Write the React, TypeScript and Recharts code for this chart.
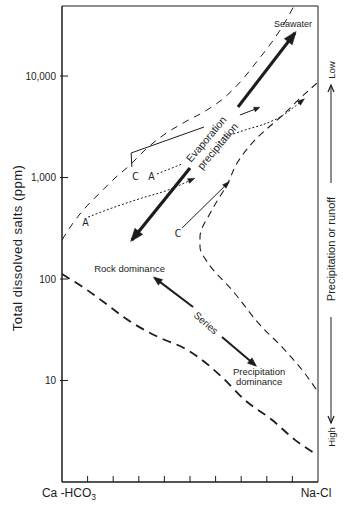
import React from 'react';
import { ComposedChart, Line, Scatter, XAxis, YAxis, ReferenceArea } from 'recharts';

const FONT = "'Liberation Sans', Arial, Helvetica, sans-serif";
const NARROW = "'Liberation Sans Narrow', 'DejaVu Sans Condensed', Arial, sans-serif";
const INK = '#1c1c1c';

// x = Na/(Na+Ca) fraction (0 = Ca-HCO3, 1 = Na-Cl), y = total dissolved salts (ppm)
const upperLeftBoundary = [
  { x: 0, y: 243 }, { x: 0.043, y: 356 }, { x: 0.09, y: 501 }, { x: 0.148, y: 705 },
  { x: 0.207, y: 989 }, { x: 0.266, y: 1330 }, { x: 0.324, y: 1866 }, { x: 0.383, y: 2480 },
  { x: 0.48, y: 3524 }, { x: 0.566, y: 4620 }, { x: 0.637, y: 6210 }, { x: 0.703, y: 9140 },
  { x: 0.766, y: 14400 }, { x: 0.82, y: 21600 }, { x: 0.867, y: 32600 }, { x: 0.906, y: 49000 },
];
const lowerLeftBoundary = [
  { x: 0, y: 112 }, { x: 0.098, y: 78 }, { x: 0.168, y: 58 }, { x: 0.246, y: 41.3 },
  { x: 0.344, y: 29.4 }, { x: 0.402, y: 25.1 }, { x: 0.469, y: 21.4 }, { x: 0.531, y: 17.1 },
  { x: 0.625, y: 10.8 }, { x: 0.715, y: 6.4 }, { x: 0.82, y: 4.1 }, { x: 0.91, y: 2.6 },
  { x: 0.996, y: 1.85 },
];
const rightBoundary = [
  { x: 0.996, y: 8530 }, { x: 0.9375, y: 6300 }, { x: 0.871, y: 4325 }, { x: 0.754, y: 2344 },
  { x: 0.684, y: 1390 }, { x: 0.648, y: 883 }, { x: 0.586, y: 479 }, { x: 0.539, y: 259 },
  { x: 0.539, y: 207 }, { x: 0.57, y: 144 }, { x: 0.664, y: 78 }, { x: 0.781, y: 33.7 },
  { x: 0.859, y: 21.4 }, { x: 0.938, y: 12.7 }, { x: 1.0, y: 7.7 },
];
const dottedLowerA = [
  { x: 0.102, y: 408 }, { x: 0.207, y: 513 }, { x: 0.3125, y: 628 }, { x: 0.414, y: 753 }, { x: 0.512, y: 968 },
];
const dottedUpperA1 = [{ x: 0.371, y: 1084 }, { x: 0.469, y: 1359 }];
const dottedUpperA2 = [
  { x: 0.625, y: 2455 }, { x: 0.715, y: 2940 }, { x: 0.801, y: 3445 }, { x: 0.859, y: 4036 },
  { x: 0.902, y: 4840 }, { x: 0.941, y: 5800 },
];
const upperC = [{ x: 0.273, y: 1270 }, { x: 0.27, y: 1745 }, { x: 0.555, y: 3147 }];
const lowerC = [{ x: 0.469, y: 318 }, { x: 0.648, y: 883 }];
const arrowSeawater = [{ x: 0.6875, y: 4955 }, { x: 0.91, y: 26550 }];
const arrowEvaporation = [{ x: 0.5, y: 1242 }, { x: 0.273, y: 243 }];
const arrowSmall = [{ x: 0.695, y: 4130 }, { x: 0.766, y: 4840 }];
const arrowSeriesUp = [{ x: 0.512, y: 53 }, { x: 0.363, y: 102 }];
const arrowSeriesDown = [{ x: 0.625, y: 26.9 }, { x: 0.754, y: 14.2 }];

const yTicks = [10, 100, 1000, 10000];
const xTicks = [0, 0.1, 0.2, 0.3, 0.4, 0.5, 0.6, 0.7, 0.8, 0.9, 1];
const xEndLabels = ['Ca -HCO', '3', 'Na-Cl'];
const yTitle = 'Total dissolved salts (ppm)';
const rightScaleLabels = ['Low', 'Precipitation or runoff', 'High'];

const annotations = [
  { x: 0.902, y: 32600, text: 'Seawater' },
  { x: 0.5625, y: 2400, text: 'Evaporation' },
  { x: 0.607, y: 2046, text: 'precipitation' },
  { x: 0.264, y: 128, text: 'Rock dominance' },
  { x: 0.5625, y: 36.9, text: 'Series' },
  { x: 0.77, y: 12.4, text: 'Precipitation' },
  { x: 0.77, y: 9.7, text: 'dominance' },
  { x: 0.092, y: 365, text: 'A' },
  { x: 0.287, y: 1035, text: 'C' },
  { x: 0.35, y: 1035, text: 'A' },
  { x: 0.453, y: 284, text: 'C' },
];

const annStyle: Record<string, { size: number; angle: number; narrow?: boolean }> = {
  Seawater: { size: 9, angle: 0 },
  Evaporation: { size: 10.5, angle: -50 },
  precipitation: { size: 10.5, angle: -50 },
  'Rock dominance': { size: 9.5, angle: 0 },
  Series: { size: 10, angle: 41 },
  Precipitation: { size: 9.5, angle: 0 },
  dominance: { size: 9.5, angle: 0 },
  A: { size: 10.5, angle: 0, narrow: true },
  C: { size: 10.5, angle: 0, narrow: true },
};

const fmt = (v: number) => v.toLocaleString('en-US');

function makeArrowDot(count: number, headLen: number, headHalf: number) {
  let prev: { x: number; y: number } | null = null;
  return (p: any) => {
    const { cx, cy, index, points } = p;
    let px: number | undefined;
    let py: number | undefined;
    if (points && index > 0 && points[index - 1]) {
      px = points[index - 1].x;
      py = points[index - 1].y;
    } else if (prev) {
      px = prev.x;
      py = prev.y;
    }
    prev = { x: cx, y: cy };
    const last = points ? index === points.length - 1 : index === count - 1;
    if (!last || px === undefined || py === undefined) return <g key={`d${index}`} />;
    const dx = cx - px;
    const dy = cy - py;
    const L = Math.hypot(dx, dy) || 1;
    const ux = dx / L;
    const uy = dy / L;
    const tx = cx + ux * 2;
    const ty = cy + uy * 2;
    const bx = tx - ux * headLen;
    const by = ty - uy * headLen;
    const pts = `${tx},${ty} ${bx - uy * headHalf},${by + ux * headHalf} ${bx + uy * headHalf},${by - ux * headHalf}`;
    return <polygon key={`d${index}`} points={pts} fill={INK} stroke={INK} strokeWidth={0.5} />;
  };
}

const textStyle = { fill: INK, stroke: 'none' };

const YTick = (p: any) => {
  const { x, y, payload } = p;
  const ax = x + 5;
  return (
    <g>
      <line x1={ax - 2} x2={ax + 6} y1={y} y2={y} stroke={INK} strokeWidth={1} />
      <text x={x - 1} y={y} dy="0.35em" textAnchor="end" fontSize={10} fontFamily={FONT} style={textStyle}>
        {fmt(payload.value)}
      </text>
    </g>
  );
};

const XTick = (p: any) => {
  const { x, y, payload } = p;
  const v = payload.value;
  if (v === 0) {
    return (
      <text x={x + 7} y={y + 15} textAnchor="middle" fontSize={12} fontFamily={FONT} style={textStyle}>
        {xEndLabels[0]}
        <tspan dy={3} fontSize={8.5}>{xEndLabels[1]}</tspan>
      </text>
    );
  }
  if (v === 1) {
    return (
      <text x={x - 2} y={y + 15} textAnchor="middle" fontSize={12} fontFamily={FONT} style={textStyle}>
        {xEndLabels[2]}
      </text>
    );
  }
  return <line x1={x} x2={x} y1={y} y2={y - 6} stroke={INK} strokeWidth={1} />;
};

const YTitle = (p: any) => {
  const vb = p.viewBox || { x: 0, y: 6, width: 62, height: 476 };
  const cx = vb.x + 17;
  const cy = vb.y + vb.height / 2 + 4;
  return (
    <text
      x={cx}
      y={cy}
      transform={`rotate(-90 ${cx} ${cy})`}
      textAnchor="middle"
      dominantBaseline="central"
      fontSize={13}
      letterSpacing={0.5}
      fontFamily={FONT}
      style={textStyle}
    >
      {yTitle}
    </text>
  );
};

const RightScale = (p: any) => {
  const vb = p.viewBox || { x: 318, y: 6, width: 26, height: 476 };
  const cx = vb.x + 13;
  const t = vb.y;
  const rot = (y: number) => `rotate(-90 ${cx} ${y})`;
  return (
    <g fontFamily={FONT}>
      <text x={cx} y={t + 64} transform={rot(t + 64)} textAnchor="middle" dominantBaseline="central" fontSize={9.5} style={textStyle}>
        {rightScaleLabels[0]}
      </text>
      <line x1={cx} x2={cx} y1={t + 177} y2={t + 80} stroke={INK} strokeWidth={1} />
      <polyline points={`${cx - 3},${t + 86} ${cx},${t + 79} ${cx + 3},${t + 86}`} fill="none" stroke={INK} strokeWidth={1.2} />
      <text x={cx} y={t + 243} transform={rot(t + 243)} textAnchor="middle" dominantBaseline="central" fontSize={11} style={textStyle}>
        {rightScaleLabels[1]}
      </text>
      <line x1={cx} x2={cx} y1={t + 311} y2={t + 417} stroke={INK} strokeWidth={1} />
      <polyline points={`${cx - 3},${t + 410} ${cx},${t + 417} ${cx + 3},${t + 410}`} fill="none" stroke={INK} strokeWidth={1.2} />
      <text x={cx} y={t + 431} transform={rot(t + 431)} textAnchor="middle" dominantBaseline="central" fontSize={9.5} style={textStyle}>
        {rightScaleLabels[2]}
      </text>
    </g>
  );
};

const AnnShape = (p: any) => {
  const { cx, cy, payload } = p;
  const st = annStyle[payload.text] || { size: 10, angle: 0 };
  return (
    <text
      x={cx}
      y={cy}
      transform={st.angle ? `rotate(${st.angle} ${cx} ${cy})` : undefined}
      textAnchor="middle"
      dominantBaseline="central"
      fontSize={st.size}
      fontFamily={st.narrow ? NARROW : FONT}
      style={textStyle}
    >
      {payload.text}
    </text>
  );
};

export default function App() {
  const common = {
    dataKey: 'y',
    isAnimationActive: false,
    activeDot: false as const,
    legendType: 'none' as const,
    stroke: INK,
  };
  return (
    <div style={{ position: 'absolute', left: 0, top: 0, width: 344, height: 506, background: '#fff' }}>
      <ComposedChart width={344} height={506} margin={{ top: 6, right: 0, bottom: 0, left: 0 }}>
        <XAxis
          type="number"
          dataKey="x"
          domain={[0, 1]}
          ticks={xTicks}
          interval={0}
          tickSize={0}
          tickMargin={0}
          height={24}
          tick={XTick}
          axisLine={{ stroke: INK }}
          allowDataOverflow
        />
        <YAxis
          type="number"
          scale="log"
          domain={[1, 49000]}
          ticks={yTicks}
          interval={0}
          width={62}
          tickSize={0}
          tickMargin={5}
          tick={YTick}
          axisLine={{ stroke: INK }}
          allowDataOverflow
          label={<YTitle />}
        />
        <YAxis
          yAxisId="r"
          orientation="right"
          type="number"
          domain={[0, 1]}
          width={26}
          axisLine={false}
          tickLine={false}
          tick={false}
          label={<RightScale />}
        />
        <ReferenceArea x1={0} x2={1} y1={1} y2={49000} fill="none" stroke={INK} strokeWidth={1} ifOverflow="visible" />

        <Line {...common} data={upperLeftBoundary} type="monotone" strokeWidth={1} strokeDasharray="7 6" dot={false} />
        <Line {...common} data={lowerLeftBoundary} type="monotone" strokeWidth={1.8} strokeDasharray="9 6" dot={false} />
        <Line {...common} data={rightBoundary} type="monotoneY" strokeWidth={1.1} strokeDasharray="7 5" dot={false} />

        <Line {...common} data={dottedLowerA} type="monotone" strokeWidth={1} strokeDasharray="2 2" dot={makeArrowDot(dottedLowerA.length, 7, 2.5)} />
        <Line {...common} data={dottedUpperA1} type="linear" strokeWidth={1} strokeDasharray="2 2" dot={false} />
        <Line {...common} data={dottedUpperA2} type="monotone" strokeWidth={1} strokeDasharray="2 2" dot={makeArrowDot(dottedUpperA2.length, 7, 2.5)} />
        <Line {...common} data={upperC} type="linear" strokeWidth={1} dot={false} />
        <Line {...common} data={lowerC} type="linear" strokeWidth={1} dot={makeArrowDot(lowerC.length, 7, 2.5)} />
        <Line {...common} data={arrowSmall} type="linear" strokeWidth={1} dot={makeArrowDot(arrowSmall.length, 6, 2.5)} />

        <Line {...common} data={arrowSeawater} type="linear" strokeWidth={3} dot={makeArrowDot(arrowSeawater.length, 13, 5)} />
        <Line {...common} data={arrowEvaporation} type="linear" strokeWidth={3.2} dot={makeArrowDot(arrowEvaporation.length, 13, 5)} />
        <Line {...common} data={arrowSeriesUp} type="linear" strokeWidth={2} dot={makeArrowDot(arrowSeriesUp.length, 9, 3.5)} />
        <Line {...common} data={arrowSeriesDown} type="linear" strokeWidth={2} dot={makeArrowDot(arrowSeriesDown.length, 9, 3.5)} />

        <Scatter data={annotations} dataKey="y" isAnimationActive={false} legendType="none" fill={INK} shape={AnnShape} />
      </ComposedChart>
    </div>
  );
}
